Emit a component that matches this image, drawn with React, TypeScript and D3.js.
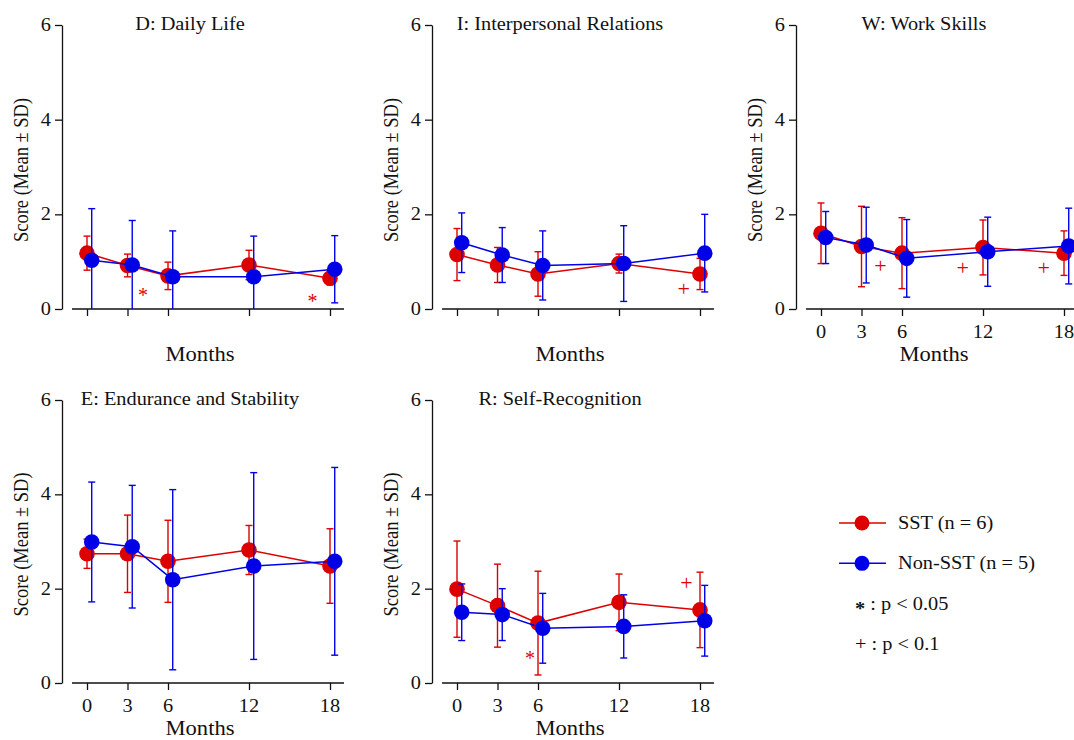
import React, { useRef, useEffect } from 'react';
import * as d3 from 'd3';

// time points (months)
const months = [0, 3, 6, 12, 18];
const yTicks = [0, 2, 4, 6];

// D: Daily Life
const dailySstMean = [1.18, 0.92, 0.70, 0.93, 0.65];
const dailySstSd = [0.36, 0.24, 0.29, 0.31, 0.14];
const dailyNonMean = [1.03, 0.93, 0.68, 0.68, 0.84];
const dailyNonSd = [1.09, 0.94, 0.97, 0.86, 0.71];
const dailyMarks = [{ m: 4.15, v: 0.40, s: '*' }, { m: 16.7, v: 0.28, s: '*' }];

// I: Interpersonal Relations
const interSstMean = [1.15, 0.93, 0.74, 0.96, 0.74];
const interSstSd = [0.55, 0.37, 0.47, 0.2, 0.33];
const interNonMean = [1.40, 1.14, 0.92, 0.96, 1.18];
const interNonSd = [0.63, 0.58, 0.73, 0.80, 0.82];
const interMarks = [{ m: 16.8, v: 0.42, s: '+' }];

// W: Work Skills
const workSstMean = [1.60, 1.32, 1.18, 1.30, 1.18];
const workSstSd = [0.64, 0.85, 0.75, 0.58, 0.47];
const workNonMean = [1.51, 1.35, 1.07, 1.21, 1.33];
const workNonSd = [0.55, 0.80, 0.82, 0.73, 0.80];
const workMarks = [{ m: 4.4, v: 0.89, s: '+' }, { m: 10.5, v: 0.86, s: '+' }, { m: 16.5, v: 0.86, s: '+' }];

// E: Endurance and Stability
const endSstMean = [2.74, 2.74, 2.58, 2.82, 2.48];
const endSstSd = [0.31, 0.82, 0.87, 0.52, 0.79];
const endNonMean = [2.99, 2.89, 2.19, 2.48, 2.58];
const endNonSd = [1.27, 1.30, 1.91, 1.98, 1.99];
const endMarks: { m: number; v: number; s: string }[] = [];

// R: Self-Recognition
const selfSstMean = [1.99, 1.64, 1.27, 1.71, 1.55];
const selfSstSd = [1.02, 0.88, 1.10, 0.60, 0.80];
const selfNonMean = [1.50, 1.45, 1.16, 1.20, 1.32];
const selfNonSd = [0.60, 0.55, 0.74, 0.67, 0.75];
const selfMarks = [{ m: 5.4, v: 0.64, s: '*' }, { m: 17.0, v: 2.12, s: '+' }];

const seriesNames = ['SST (n = 6)', 'Non-SST (n = 5)'];
const sigLabels = [' : p < 0.05', ' : p < 0.1'];

const RED = '#dc0000';
const BLUE = '#0000e6';
const FONT = '"Liberation Serif", "Times New Roman", serif';
const SX = 1.13;

const panels = [
  { title: 'D: Daily Life', col: 0, row: 0, labels: false, sst: [dailySstMean, dailySstSd], non: [dailyNonMean, dailyNonSd], marks: dailyMarks },
  { title: 'I: Interpersonal Relations', col: 1, row: 0, labels: false, sst: [interSstMean, interSstSd], non: [interNonMean, interNonSd], marks: interMarks },
  { title: 'W: Work Skills', col: 2, row: 0, labels: true, sst: [workSstMean, workSstSd], non: [workNonMean, workNonSd], marks: workMarks },
  { title: 'E: Endurance and Stability', col: 0, row: 1, labels: true, sst: [endSstMean, endSstSd], non: [endNonMean, endNonSd], marks: endMarks },
  { title: 'R: Self-Recognition', col: 1, row: 1, labels: true, sst: [selfSstMean, selfSstSd], non: [selfNonMean, selfNonSd], marks: selfMarks },
];

const colX = [62, 432, 796];
const rowTop = [25, 400];
const rowBottom = [309, 683];

function addText(g: any, x: number, y: number, str: string, size: number, anchor: string, rotate = false) {
  const wrap = g.append('g')
    .attr('transform', `translate(${x},${y}) scale(${SX},1)` + (rotate ? ' rotate(-90)' : ''));
  return wrap.append('text')
    .attr('text-anchor', anchor)
    .attr('font-size', size)
    .attr('font-family', FONT)
    .attr('fill', '#111')
    .text(str);
}

const App = () => {
  const ref = useRef<SVGSVGElement>(null);

  useEffect(() => {
    document.body.style.margin = '0';
    const svg = d3.select(ref.current);
    svg.selectAll('*').remove();

    panels.forEach((p) => {
      const ax = colX[p.col];
      const top = rowTop[p.row];
      const bottom = rowBottom[p.row];
      const g = svg.append('g');

      const x = d3.scaleLinear().domain([0, 18]).range([ax + 25, ax + 268]);
      const y = d3.scaleLinear().domain([0, 6]).range([bottom, top]).clamp(true);

      // y axis
      const yAxis = g.append('g')
        .attr('transform', `translate(${ax},0)`)
        .call(d3.axisLeft(y).tickValues(yTicks).tickSize(7).tickSizeOuter(0).tickFormat(() => ''));
      yAxis.selectAll('path, line').attr('stroke', '#111').attr('stroke-width', 1.3);
      yTicks.forEach((t) => {
        addText(g, ax - 11, y(t) + 6, String(t), 18, 'end');
      });

      // x axis
      const xAxis = g.append('g')
        .attr('transform', `translate(0,${bottom})`)
        .call(d3.axisBottom(x).tickValues(months).tickSize(7).tickFormat(() => ''));
      xAxis.select('.domain').remove();
      xAxis.selectAll('line').attr('stroke', '#111').attr('stroke-width', 1.3);
      g.append('line')
        .attr('x1', x(0) - 15).attr('x2', x(18) + 14)
        .attr('y1', bottom).attr('y2', bottom)
        .attr('stroke', '#111').attr('stroke-width', 1.3);
      if (p.labels) {
        months.forEach((m) => addText(g, x(m), bottom + 29, String(m), 18, 'middle'));
      }
      addText(g, ax + 138, bottom + 52, 'Months', 20, 'middle');
      addText(g, ax - 34, (top + bottom) / 2 + 3, 'Score (Mean \u00b1 SD)', 18.5, 'middle', true);
      addText(g, ax + 128, top + 5, p.title, 18, 'middle');

      // series: SST first, then Non-SST on top
      const series = [
        { mean: p.sst[0], sd: p.sst[1], color: RED, off: 0 },
        { mean: p.non[0], sd: p.non[1], color: BLUE, off: 0.35 },
      ];
      series.forEach((s) => {
        const pts = months.map((m, i) => ({ m: m + s.off, v: s.mean[i], sd: s.sd[i] }));
        const eg = g.append('g').attr('stroke', s.color).attr('stroke-width', 1.4);
        pts.forEach((d) => {
          const cx = x(d.m);
          const y1 = y(d.v + d.sd);
          const y2 = y(d.v - d.sd);
          eg.append('line').attr('x1', cx).attr('x2', cx).attr('y1', y1).attr('y2', y2);
          eg.append('line').attr('x1', cx - 3.5).attr('x2', cx + 3.5).attr('y1', y1).attr('y2', y1);
          if (d.v - d.sd > 0) {
            eg.append('line').attr('x1', cx - 3.5).attr('x2', cx + 3.5).attr('y1', y2).attr('y2', y2);
          }
        });
        g.append('path')
          .datum(pts)
          .attr('fill', 'none')
          .attr('stroke', s.color)
          .attr('stroke-width', 1.5)
          .attr('d', d3.line<any>().x((d) => x(d.m)).y((d) => y(d.v)));
        g.append('g').selectAll('circle')
          .data(pts)
          .join('circle')
          .attr('cx', (d) => x(d.m))
          .attr('cy', (d) => y(d.v))
          .attr('r', 7.8)
          .attr('fill', s.color);
      });

      // significance marks
      p.marks.forEach((mk) => {
        const t = g.append('text')
          .attr('x', x(mk.m))
          .attr('y', y(mk.v))
          .attr('text-anchor', 'middle')
          .attr('font-family', FONT)
          .attr('font-size', mk.s === '*' ? 20 : 22)
          .attr('fill', RED)
          .text(mk.s);
        t.attr('dy', mk.s === '*' ? '0.6em' : '0.3em');
      });
    });

    // legend
    const lg = svg.append('g');
    const legendColors = [RED, BLUE];
    const legendY = d3.scalePoint<number>().domain([0, 1, 2, 3]).range([523, 644]);
    seriesNames.forEach((name, i) => {
      const ly = legendY(i) as number;
      lg.append('line').attr('x1', 839).attr('x2', 886).attr('y1', ly).attr('y2', ly)
        .attr('stroke', legendColors[i]).attr('stroke-width', 1.5);
      lg.append('circle').attr('cx', 862).attr('cy', ly).attr('r', 7.5).attr('fill', legendColors[i]);
      addText(lg, 898, ly + 6, name, 18, 'start');
    });
    ['*', '+'].forEach((sym, i) => {
      const ly = legendY(i + 2) as number;
      const t = addText(lg, 855, ly + 6, '', 18, 'start');
      t.append('tspan').attr('dy', sym === '*' ? '0.3em' : '0').attr('font-weight', sym === '*' ? 'bold' : 'normal').text(sym);
      t.append('tspan').attr('dy', sym === '*' ? '-0.3em' : '0').text(sigLabels[i]);
    });
  }, []);

  return <svg ref={ref} width={1074} height={740} style={{ display: 'block', background: '#fff' }} />;
};

export default App;
